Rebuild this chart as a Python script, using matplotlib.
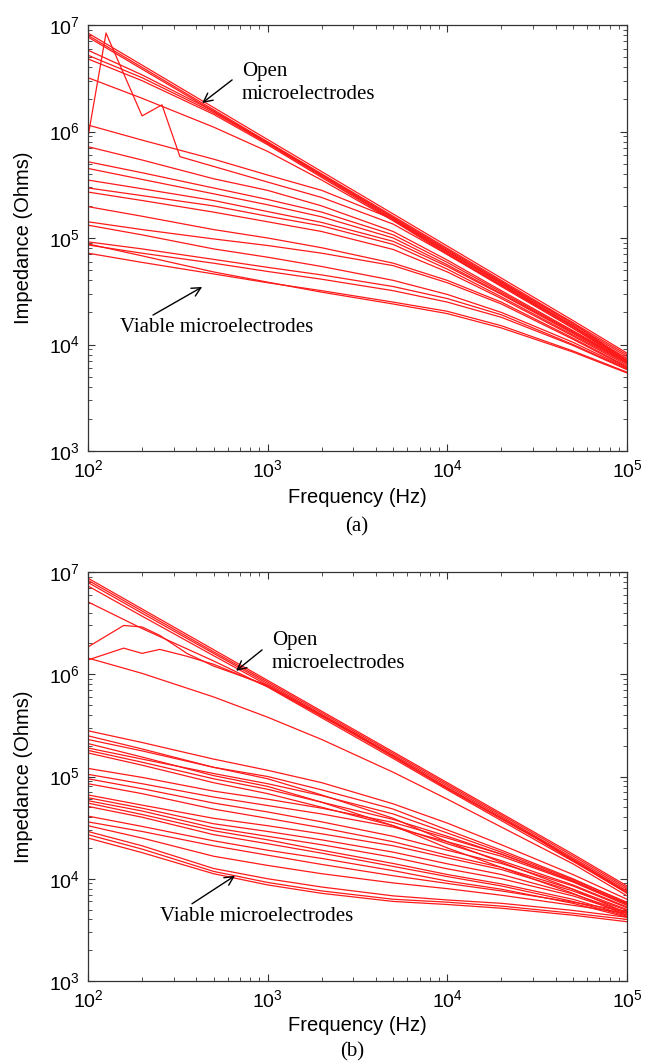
import matplotlib
matplotlib.use("Agg")
import matplotlib.pyplot as plt

plt.rcParams['font.family'] = ['Liberation Sans', 'DejaVu Sans']
plt.rcParams['mathtext.default'] = 'regular'

# ---------------- data ----------------
freq = [100, 200, 500, 1000, 2000, 5000, 10000, 20000, 50000, 100000]

# Panel (a): open microelectrodes
a_open = [
    [8.4e6, 4.2e6, 1.68e6, 8.4e5, 4.2e5, 1.68e5, 8.4e4, 4.2e4, 1.68e4, 8.3e3],
    [8.0e6, 4.0e6, 1.6e6, 8.0e5, 4.0e5, 1.6e5, 8.0e4, 4.0e4, 1.6e4, 8.0e3],
    [7.7e6, 3.85e6, 1.55e6, 7.8e5, 3.9e5, 1.56e5, 7.8e4, 3.9e4, 1.55e4, 7.7e3],
    [5.8e6, 3.4e6, 1.55e6, 7.9e5, 3.9e5, 1.54e5, 7.6e4, 3.8e4, 1.5e4, 7.4e3],
    [5.2e6, 3.2e6, 1.5e6, 7.7e5, 3.8e5, 1.5e5, 7.4e4, 3.7e4, 1.47e4, 7.2e3],
    [4.8e6, 3.0e6, 1.45e6, 7.5e5, 3.7e5, 1.47e5, 7.2e4, 3.6e4, 1.43e4, 7.0e3],
    [3.2e6, 2.05e6, 1.1e6, 6.5e5, 3.5e5, 1.45e5, 7.0e4, 3.5e4, 1.42e4, 7.0e3],
]
# Panel (a): viable microelectrodes
a_viable = [
    [1.15e6, 8.3e5, 5.5e5, 3.9e5, 2.8e5, 1.5e5, 7.4e4, 3.8e4, 1.6e4, 7.0e3],
    [7.2e5, 5.4e5, 3.6e5, 2.8e5, 2.0e5, 1.15e5, 6.2e4, 3.2e4, 1.35e4, 7.0e3],
    [5.2e5, 4.1e5, 2.95e5, 2.3e5, 1.75e5, 1.07e5, 5.9e4, 3.1e4, 1.32e4, 6.9e3],
    [4.5e5, 3.55e5, 2.6e5, 2.05e5, 1.58e5, 1.0e5, 5.6e4, 3.0e4, 1.3e4, 6.8e3],
    [3.5e5, 2.9e5, 2.25e5, 1.77e5, 1.4e5, 9.3e4, 5.4e4, 2.95e4, 1.27e4, 6.7e3],
    [2.95e5, 2.5e5, 2.0e5, 1.6e5, 1.3e5, 8.7e4, 5.1e4, 2.8e4, 1.23e4, 6.6e3],
    [2.7e5, 2.25e5, 1.75e5, 1.42e5, 1.15e5, 7.8e4, 4.8e4, 2.7e4, 1.2e4, 6.4e3],
    [1.97e5, 1.6e5, 1.2e5, 1.0e5, 8.1e4, 5.8e4, 4.0e4, 2.5e4, 1.15e4, 6.2e3],
    [1.42e5, 1.2e5, 9.8e4, 8.5e4, 7.2e4, 5.5e4, 3.8e4, 2.4e4, 1.12e4, 6.1e3],
    [1.32e5, 1.07e5, 7.9e4, 6.6e4, 5.4e4, 4.0e4, 2.95e4, 2.0e4, 1.05e4, 6.0e3],
    [9.2e4, 7.9e4, 6.3e4, 5.3e4, 4.5e4, 3.5e4, 2.7e4, 1.9e4, 1.0e4, 5.9e3],
    [8.6e4, 7.2e4, 5.8e4, 4.85e4, 4.1e4, 3.2e4, 2.5e4, 1.8e4, 9.8e3, 5.8e3],
    [7.2e4, 5.9e4, 4.6e4, 3.8e4, 3.2e4, 2.5e4, 2.05e4, 1.5e4, 8.7e3, 5.5e3],
    [8.8e4, 6.8e4, 4.8e4, 3.85e4, 3.1e4, 2.4e4, 1.95e4, 1.43e4, 8.5e3, 5.4e3],
]
# Panel (a): erratic electrode
a_spike_freq = [100, 126, 200, 258, 325, 1000, 2000, 5000, 10000, 20000, 50000, 100000]
a_spike_vals = [8.9e5, 8.4e6, 1.4e6, 1.78e6, 5.8e5, 3.35e5, 2.4e5, 1.35e5, 7.0e4, 3.6e4, 1.5e4, 6.9e3]

# Panel (b): open microelectrodes
b_open = [
    [8.7e6, 4.35e6, 1.74e6, 8.7e5, 4.35e5, 1.74e5, 8.7e4, 4.35e4, 1.74e4, 8.5e3],
    [8.3e6, 4.15e6, 1.66e6, 8.4e5, 4.2e5, 1.68e5, 8.4e4, 4.2e4, 1.67e4, 8.2e3],
    [7.9e6, 3.95e6, 1.6e6, 8.1e5, 4.05e5, 1.62e5, 8.1e4, 4.05e4, 1.6e4, 7.9e3],
    [7.3e6, 3.7e6, 1.52e6, 7.8e5, 3.9e5, 1.56e5, 7.8e4, 3.9e4, 1.55e4, 7.6e3],
    [5.1e6, 2.8e6, 1.35e6, 7.5e5, 3.75e5, 1.5e5, 7.4e4, 3.7e4, 1.48e4, 7.3e3],
    [1.44e6, 1.02e6, 6.0e5, 3.8e5, 2.3e5, 1.1e5, 6.0e4, 3.2e4, 1.4e4, 6.8e3],
]
b_bump_freq = [100, 158, 200, 251, 355, 501, 1000, 3162, 10000, 31623, 100000]
b_bump1 = [1.85e6, 3.0e6, 2.9e6, 2.4e6, 1.6e6, 1.2e6, 7.8e5, 2.55e5, 7.7e4, 2.5e4, 7.4e3]
b_bump2 = [1.38e6, 1.8e6, 1.6e6, 1.75e6, 1.5e6, 1.25e6, 7.6e5, 2.5e5, 7.6e4, 2.45e4, 7.2e3]

# Panel (b): viable microelectrodes
b_viable = [
    [2.8e5, 2.15e5, 1.48e5, 1.15e5, 8.7e4, 5.4e4, 3.5e4, 2.15e4, 1.1e4, 6.3e3],
    [2.5e5, 1.86e5, 1.23e5, 9.5e4, 6.6e4, 3.9e4, 2.3e4, 1.45e4, 7.9e3, 4.6e3],
    [2.3e5, 1.78e5, 1.23e5, 1.0e5, 7.4e4, 4.8e4, 3.0e4, 1.9e4, 1.0e4, 5.8e3],
    [2.1e5, 1.55e5, 1.02e5, 8.0e4, 5.6e4, 3.3e4, 2.0e4, 1.29e4, 7.2e3, 4.4e3],
    [1.9e5, 1.48e5, 1.07e5, 8.5e4, 6.5e4, 4.3e4, 2.8e4, 1.82e4, 9.8e3, 5.9e3],
    [1.8e5, 1.38e5, 9.5e4, 7.5e4, 5.6e4, 3.8e4, 2.6e4, 1.74e4, 9.5e3, 5.7e3],
    [1.7e5, 1.29e5, 8.7e4, 6.8e4, 5.0e4, 3.3e4, 2.2e4, 1.5e4, 8.7e3, 5.3e3],
    [1.2e5, 9.8e4, 7.2e4, 6.0e4, 4.9e4, 3.55e4, 2.5e4, 1.74e4, 9.5e3, 5.6e3],
    [1.05e5, 8.5e4, 6.3e4, 5.2e4, 4.3e4, 3.2e4, 2.3e4, 1.66e4, 9.3e3, 5.5e3],
    [9.5e4, 7.6e4, 5.5e4, 4.5e4, 3.6e4, 2.6e4, 1.9e4, 1.41e4, 8.5e3, 5.2e3],
    [8.5e4, 6.8e4, 4.8e4, 3.9e4, 3.15e4, 2.3e4, 1.7e4, 1.29e4, 7.9e3, 5.0e3],
    [6.6e4, 5.25e4, 3.9e4, 3.3e4, 2.75e4, 2.1e4, 1.6e4, 1.23e4, 7.6e3, 4.9e3],
    [6.2e4, 4.9e4, 3.45e4, 2.9e4, 2.4e4, 1.82e4, 1.4e4, 1.1e4, 7.1e3, 4.7e3],
    [5.8e4, 4.6e4, 3.15e4, 2.6e4, 2.15e4, 1.62e4, 1.25e4, 1.0e4, 6.8e3, 4.6e3],
    [5.5e4, 4.25e4, 2.95e4, 2.4e4, 1.9e4, 1.41e4, 1.1e4, 8.9e3, 6.3e3, 4.4e3],
    [5.1e4, 4.0e4, 2.7e4, 2.2e4, 1.78e4, 1.32e4, 1.05e4, 8.5e3, 6.0e3, 4.3e3],
    [4.1e4, 3.25e4, 2.35e4, 1.9e4, 1.58e4, 1.2e4, 9.5e3, 7.9e3, 5.75e3, 4.2e3],
    [3.6e4, 2.9e4, 2.1e4, 1.7e4, 1.38e4, 1.07e4, 9.0e3, 7.6e3, 5.9e3, 4.8e3],
    [3.3e4, 2.5e4, 1.66e4, 1.35e4, 1.12e4, 9.1e3, 8.0e3, 6.9e3, 5.5e3, 4.6e3],
    [2.9e4, 2.1e4, 1.26e4, 1.0e4, 8.3e3, 6.8e3, 6.2e3, 5.75e3, 4.9e3, 4.2e3],
    [2.7e4, 1.95e4, 1.18e4, 9.2e3, 7.6e3, 6.3e3, 5.9e3, 5.4e3, 4.6e3, 4.0e3],
    [2.5e4, 1.8e4, 1.12e4, 8.7e3, 7.2e3, 6.0e3, 5.6e3, 5.15e3, 4.4e3, 3.8e3],
]

xlim = (1e2, 1e5)
ylim = (1e3, 1e7)
line_color = '#ff1a1a'
lw = 0.9

W, H = 645, 1064
fig = plt.figure(figsize=(W / 100, H / 100), dpi=100)
ax_a = fig.add_axes([88 / W, 1 - 451 / H, 539 / W, 426 / H])
ax_b = fig.add_axes([88 / W, 1 - 981 / H, 539 / W, 409 / H])


def style(ax, xlab_y):
    ax.set_xscale('log')
    ax.set_yscale('log')
    ax.set_xlim(*xlim)
    ax.set_ylim(*ylim)
    ax.tick_params(which='both', direction='in', top=True, right=True,
                   labelsize=14, color='#333333')
    ax.tick_params(which='major', length=5, width=0.8, pad=6)
    ax.tick_params(which='minor', length=3, width=0.6)
    for s in ax.spines.values():
        s.set_color('#333333')
        s.set_linewidth(0.9)
    ax.set_xlabel('Frequency (Hz)', fontsize=14.5, va='center')
    ax.set_ylabel('Impedance (Ohms)', fontsize=14.5, va='center')
    ax.xaxis.set_label_coords(0.5, xlab_y)
    ax.yaxis.set_label_coords(-0.119, 0.5)


serif = ['Liberation Serif', 'DejaVu Serif']
arrow = dict(arrowstyle='->', lw=1.0, color='black', shrinkA=0, shrinkB=0,
             mutation_scale=16)

# ---- panel (a)
for vals in a_open + a_viable:
    ax_a.plot(freq, vals, color=line_color, lw=lw)
ax_a.plot(a_spike_freq, a_spike_vals, color=line_color, lw=lw)
style(ax_a, -0.108)
ax_a.annotate('', xy=(432, 1.85e6), xytext=(634, 3.05e6), arrowprops=arrow)
ax_a.text(720, 2.85e6, 'Open\nmicroelectrodes', family=serif, fontsize=15,
          ha='left', va='center', linespacing=1.3)
ax_a.annotate('', xy=(432, 3.47e4), xytext=(230, 1.89e4), arrowprops=arrow)
ax_a.text(519, 1.43e4, 'Viable microelectrodes', family=serif, fontsize=15,
          ha='center', va='center')

# ---- panel (b)
for vals in b_open + b_viable:
    ax_b.plot(freq, vals, color=line_color, lw=lw)
ax_b.plot(b_bump_freq, b_bump1, color=line_color, lw=lw)
ax_b.plot(b_bump_freq, b_bump2, color=line_color, lw=lw)
style(ax_b, -0.1076)
ax_b.annotate('', xy=(667, 1.08e6), xytext=(931, 1.73e6), arrowprops=arrow)
ax_b.text(1057, 1.65e6, 'Open\nmicroelectrodes', family=serif, fontsize=15,
          ha='left', va='center', linespacing=1.3)
ax_b.annotate('', xy=(658, 1.07e4), xytext=(379, 5.69e3), arrowprops=arrow)
ax_b.text(873, 4.25e3, 'Viable microelectrodes', family=serif, fontsize=15,
          ha='center', va='center')

fig.text(357 / W, 1 - 527 / H, '(a)', family=serif, fontsize=15,
         ha='center', va='center')
fig.text(352 / W, 1 - 1052 / H, '(b)', family=serif, fontsize=15,
         ha='center', va='center')

fig.savefig('out.png', dpi=100, facecolor='white')
